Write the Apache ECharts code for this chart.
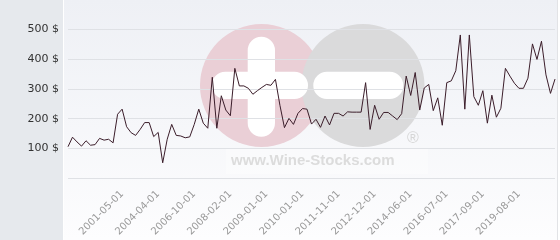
<!DOCTYPE html>
<html>
<head>
<meta charset="utf-8">
<script src="https://cdn.jsdelivr.net/npm/echarts@6/dist/echarts.min.js"></script>
<style>
html,body{margin:0;padding:0;background:#fff;}
#chart{width:560px;height:240px;}
</style>
</head>
<body>
<div id="chart"></div>
<script>
// Tick labels shown on the x axis (every 8th observation starting at the 13th)
const tickLabels = ['2001-05-01','2004-04-01','2006-10-01','2008-02-01','2009-01-01','2010-01-01',
  '2011-11-01','2012-12-01','2014-06-01','2016-07-01','2017-09-01','2019-08-01'];
const firstLabelIndex = 12;
const labelStep = 8;

// Price values ($)
const values = [
  106,138,122,108,126,111,113,134,128,131,
  119,215,232,173,153,144,164,187,187,140,
  154,52,131,181,144,142,136,139,181,232,
  185,168,339,168,277,229,210,369,310,310,
  302,282,294,305,315,312,332,245,170,201,
  181,218,234,232,182,198,171,209,179,218,
  218,209,223,222,222,222,321,164,245,198,
  221,221,209,197,217,343,278,355,229,303,
  315,227,270,178,321,327,361,481,232,481,
  274,245,294,185,279,205,235,369,343,319,
  302,302,336,451,399,460,347,285,333
];

const yTicks = [0,100,200,300,400,500];

const categories = values.map(function(_, i){
  const k = (i - firstLabelIndex) / labelStep;
  return (k >= 0 && Number.isInteger(k) && k < tickLabels.length) ? tickLabels[k] : '';
});

const chart = echarts.init(document.getElementById('chart'), null, {renderer:'canvas'});
chart.setOption({
  animation: false,
  backgroundColor: '#ffffff',
  graphic: [
    {type:'rect', z:-10, z2:0, shape:{x:0,y:0,width:63,height:240}, style:{fill:'#e6e9ed'}},
    {type:'rect', z:-10, z2:1, shape:{x:63,y:0,width:494,height:240},
      style:{fill:new echarts.graphic.LinearGradient(0,0,0,1,[{offset:0,color:'#eef0f5'},{offset:1,color:'#fdfdfe'}])}},
    {type:'line', z:-10, z2:2, shape:{x1:63.5,y1:0,x2:63.5,y2:240}, style:{stroke:'#ffffff',lineWidth:1}},
    {type:'line', z:-10, z2:2, shape:{x1:557.5,y1:0,x2:557.5,y2:240}, style:{stroke:'#e2e3e6',lineWidth:1}},
    // watermark
    {type:'circle', z:-5, z2:0, shape:{cx:261.5,cy:85.5,r:61.5}, style:{fill:'#eacfd6'}},
    {type:'circle', z:-5, z2:1, shape:{cx:363,cy:85.5,r:61.5}, style:{fill:'#dadadb'}},
    {type:'rect', z:-5, z2:2, shape:{x:211.7,y:71.7,width:96.3,height:27.3,r:13.6}, style:{fill:'#ffffff'}},
    {type:'rect', z:-5, z2:2, shape:{x:247.7,y:36.7,width:27.3,height:100,r:13.6}, style:{fill:'#ffffff'}},
    {type:'rect', z:-5, z2:2, shape:{x:313.3,y:71.7,width:90,height:27.3,r:13.6}, style:{fill:'#ffffff'}},
    {type:'rect', z:-5, z2:3, shape:{x:226,y:149,width:202,height:25}, style:{fill:'rgba(255,255,255,0.35)'}},
    {type:'text', z:-5, z2:4, x:231, y:161, style:{text:'www.Wine-Stocks.com', fill:'#dcdcdc',
      font:'bold 15px "Liberation Sans", Arial, sans-serif', textVerticalAlign:'middle'}},
    {type:'text', z:-5, z2:4, x:413, y:139, style:{text:'®', fill:'#d6d6d6',
      font:'16px "Liberation Sans", Arial, sans-serif', textAlign:'center', textVerticalAlign:'middle'}}
  ],
  grid: {left:68, right:5, top:29.3, bottom:61.7, containLabel:false},
  xAxis: {
    type:'category', data:categories, boundaryGap:false,
    axisLine:{show:false}, axisTick:{show:false}, splitLine:{show:false},
    axisLabel:{
      interval:function(i, v){ return v !== ''; },
      rotate:45, color:'#999999', fontSize:10, fontFamily:'DejaVu Sans', margin:14
    }
  },
  yAxis: {
    type:'value', min:yTicks[0], max:yTicks[yTicks.length-1], interval:100,
    axisLine:{show:false}, axisTick:{show:false},
    splitLine:{lineStyle:{color:'#dfe1e5', width:1}},
    axisLabel:{
      formatter:function(v){ return v === 0 ? '' : v + ' $'; },
      color:'#333333', fontSize:11, fontFamily:'DejaVu Sans', margin:9
    }
  },
  series: [{
    type:'line', data:values, symbol:'none', z:5,
    lineStyle:{color:'#3b1d2a', width:1}
  }]
});
</script>
</body>
</html>
